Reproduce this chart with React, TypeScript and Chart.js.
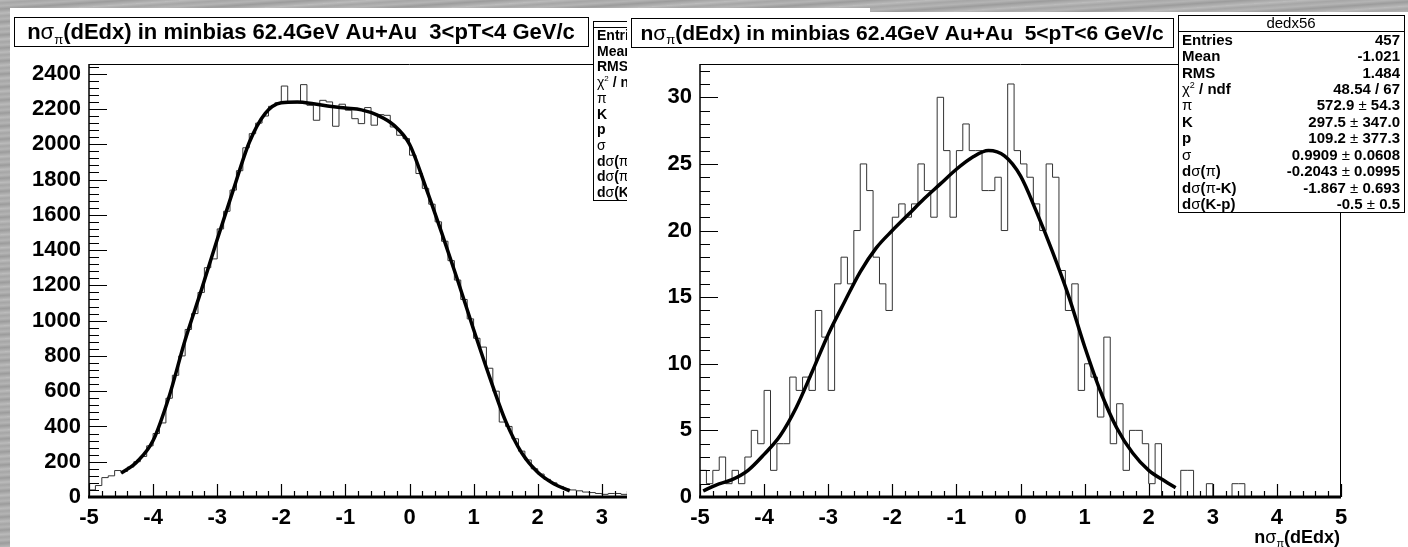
import React, { useEffect, useRef } from "react";
import { Chart, registerables } from "chart.js";

Chart.register(...registerables);

// ---------------- data ----------------
const binLow = -5;
const binWidth = 0.1;

// left pad: 3<pT<4 (visible bins from -5 to ~3.5)
const leftCounts = [
  40, 65, 110, 120, 150, 145, 170, 200, 230, 290,
  360, 420, 560, 690, 800, 950, 1040, 1160, 1300, 1350,
  1520, 1620, 1740, 1850, 1980, 2060, 2120, 2160, 2215, 2235,
  2330, 2235, 2235, 2338, 2221, 2136, 2249, 2240, 2102, 2227,
  2193, 2145, 2117, 2208, 2108, 2168, 2164, 2098, 2051, 2032,
  1938, 1834, 1750, 1660, 1560, 1450, 1340, 1230, 1120, 1010,
  900, 850, 730, 600, 425, 400, 330, 260, 210, 160,
  130, 100, 80, 60, 45, 40, 35, 28, 25, 20,
  15, 20, 20, 15, 12,
];
const leftFitX = [-4.5, -4.25, -4.0, -3.75, -3.5, -3.25, -3.0, -2.75, -2.5, -2.25, -2.0, -1.75, -1.5, -1.25, -1.0, -0.75, -0.5, -0.25, 0.0, 0.25, 0.5, 0.75, 1.0, 1.25, 1.5, 1.75, 2.0, 2.25, 2.5];
const leftFitY = [135, 200, 320, 570, 890, 1170, 1460, 1740, 2010, 2175, 2235, 2240, 2230, 2215, 2205, 2195, 2165, 2110, 2000, 1760, 1500, 1230, 950, 680, 430, 250, 140, 75, 35];

// right pad: 5<pT<6
const rightCounts = [
  2, 1, 2, 3, 1, 2, 1, 3, 5, 4,
  8, 2, 4, 4, 9, 8, 9, 8, 14, 12,
  8, 16, 18, 16, 20, 25, 23, 18, 16, 14,
  21, 22, 21, 22, 25, 23, 21, 30, 26, 21,
  26, 28, 26, 26, 23, 23, 24, 20, 31, 26,
  25, 24, 22, 20, 25, 24, 17, 14, 16, 8,
  10, 9, 6, 12, 4, 7, 2, 5, 5, 4,
  1, 4, 0, 0, 0, 2, 2, 0, 0, 1,
  0, 0, 0, 1, 1, 0, 0, 0, 0, 0,
  0, 0, 0, 0, 0, 0, 0, 0, 0, 0,
];
const rightFitX = [-4.95, -4.75, -4.5, -4.25, -4.0, -3.75, -3.5, -3.25, -3.0, -2.75, -2.5, -2.25, -2.0, -1.75, -1.5, -1.25, -1.0, -0.75, -0.5, -0.25, 0.0, 0.25, 0.5, 0.75, 1.0, 1.25, 1.5, 1.75, 2.0, 2.25, 2.42];
const rightFitY = [0.45, 0.9, 1.3, 2.0, 3.2, 4.6, 6.7, 9.4, 12.2, 14.6, 16.9, 18.7, 20.0, 21.2, 22.4, 23.5, 24.6, 25.5, 26.0, 25.6, 24.1, 21.4, 18.4, 15.1, 11.3, 7.9, 5.2, 3.3, 2.0, 1.2, 0.7];

const leftTitle = "nσ_π(dEdx) in minbias 62.4GeV Au+Au  3<pT<4 GeV/c";
const rightTitle = "nσ_π(dEdx) in minbias 62.4GeV Au+Au  5<pT<6 GeV/c";
const xAxisTitle = "nσ_π(dEdx)";

const statLabels = ["Entries", "Mean", "RMS", "χ^2 / ndf", "π", "K", "p", "σ", "dσ(π)", "dσ(π-K)", "dσ(K-p)"];
const rightStatsName = "dedx56";
const rightStatValues = ["457", "-1.021", "1.484", "48.54 / 67", "572.9 ± 54.3", "297.5 ± 347.0", "109.2 ± 377.3", "0.9909 ± 0.0608", "-0.2043 ± 0.0995", "-1.867 ± 0.693", "-0.5 ± 0.5"];

// ---------------- text helpers ----------------
const FAM = '"Liberation Sans", Arial, Helvetica, sans-serif';
type Seg = { t: string; k: "b" | "g" | "sub" | "sup" };

function parseRich(s: string): Seg[] {
  const segs: Seg[] = [];
  for (let i = 0; i < s.length; i++) {
    let c = s[i];
    let k: Seg["k"];
    if (c === "^") { k = "sup"; c = s[++i]; }
    else if (c === "_") { k = "sub"; c = s[++i]; }
    else if ("σπχ±".includes(c)) k = "g";
    else k = "b";
    const last = segs[segs.length - 1];
    if (last && last.k === k) last.t += c; else segs.push({ t: c, k });
  }
  return segs;
}
function fontFor(k: Seg["k"], size: number) {
  if (k === "b") return `bold ${size}px ${FAM}`;
  if (k === "g") return `${size}px ${FAM}`;
  return `${Math.round(size * 0.6)}px ${FAM}`;
}
function drawRich(ctx: CanvasRenderingContext2D, s: string, x: number, y: number, size: number, align: "left" | "right" | "center") {
  const segs = parseRich(s);
  let w = 0;
  const ws = segs.map((sg) => { ctx.font = fontFor(sg.k, size); const m = ctx.measureText(sg.t).width; w += m; return m; });
  let cx = align === "left" ? x : align === "right" ? x - w : x - w / 2;
  ctx.textAlign = "left";
  ctx.textBaseline = "alphabetic";
  segs.forEach((sg, i) => {
    ctx.font = fontFor(sg.k, size);
    const dy = sg.k === "sub" ? size * 0.2 : sg.k === "sup" ? -size * 0.4 : 0;
    ctx.fillText(sg.t, cx, y + dy);
    cx += ws[i];
  });
}

// ---------------- panel ----------------
interface StatsCfg { box: [number, number, number, number]; sepY: number; name: string; labels: string[]; values: string[]; font: number }
interface PanelCfg {
  left: number; top: number; width: number; height: number;
  area: { l: number; t: number; r: number; b: number };
  counts: number[]; fitX: number[]; fitY: number[];
  yMax: number; yMajor: number; yMinor: number;
  tickFont: number;
  title: string; titleBox: [number, number, number, number]; titleFont: number;
  stats: StatsCfg;
  axisTitle?: { text: string; x: number; y: number; size: number };
}

function makeDecor(cfg: PanelCfg) {
  return {
    id: "rootDecor",
    afterDraw(chart: any) {
      const ctx: CanvasRenderingContext2D = chart.ctx;
      const { left, right, top, bottom } = chart.chartArea;
      const xs = chart.scales.x;
      const ys = chart.scales.y;
      ctx.save();
      ctx.strokeStyle = "#000";
      // frame
      ctx.lineWidth = 1;
      ctx.beginPath();
      ctx.moveTo(left, top + 0.5); ctx.lineTo(right, top + 0.5);
      ctx.moveTo(right - 0.5, top); ctx.lineTo(right - 0.5, bottom);
      ctx.stroke();
      // y axis
      ctx.lineWidth = 1.5;
      ctx.beginPath(); ctx.moveTo(left, top); ctx.lineTo(left, bottom); ctx.stroke();
      // x ticks
      ctx.lineWidth = 1.2;
      ctx.beginPath();
      const nx = Math.round((xs.max - xs.min) / 0.2);
      for (let k = 0; k <= nx; k++) {
        const v = xs.min + k * 0.2;
        const px = Math.round(xs.getPixelForValue(v)) + 0.5;
        const len = k % 5 === 0 ? 13 : 6;
        ctx.moveTo(px, bottom); ctx.lineTo(px, bottom - len);
      }
      // y ticks
      const ny = Math.floor(cfg.yMax / cfg.yMinor + 1e-6);
      const ratio = Math.round(cfg.yMajor / cfg.yMinor);
      for (let k = 0; k <= ny; k++) {
        const v = k * cfg.yMinor;
        const py = Math.round(ys.getPixelForValue(v)) + 0.5;
        const len = k % ratio === 0 ? 18 : 10;
        ctx.moveTo(left, py); ctx.lineTo(left + len, py);
      }
      ctx.stroke();
      // x axis (thick)
      ctx.lineWidth = 3;
      ctx.beginPath(); ctx.moveTo(left - 1, bottom); ctx.lineTo(right, bottom); ctx.stroke();

      // stats box
      const st = cfg.stats;
      const [sx, sy, sw, sh] = st.box;
      ctx.fillStyle = "#fff";
      ctx.fillRect(sx, sy, sw, sh);
      ctx.lineWidth = 1;
      ctx.strokeRect(sx + 0.5, sy + 0.5, sw, sh);
      ctx.beginPath(); ctx.moveTo(sx, st.sepY + 0.5); ctx.lineTo(sx + sw, st.sepY + 0.5); ctx.stroke();
      ctx.fillStyle = "#000";
      if (st.name) {
        ctx.font = `${st.font}px ${FAM}`;
        ctx.textAlign = "center"; ctx.textBaseline = "middle";
        ctx.fillText(st.name, sx + sw / 2, (sy + st.sepY) / 2 + 1);
      }
      const rowH = (sy + sh - st.sepY) / st.labels.length;
      st.labels.forEach((lab, i) => {
        const cy = st.sepY + rowH * (i + 0.5);
        drawRich(ctx, lab, sx + 4, cy + st.font * 0.36, st.font, "left");
        if (st.values[i]) drawRich(ctx, st.values[i], sx + sw - 4, cy + st.font * 0.36, st.font, "right");
      });

      // title box
      const [tx, ty, tw, th] = cfg.titleBox;
      ctx.fillStyle = "#fff";
      ctx.fillRect(tx, ty, tw, th);
      ctx.strokeRect(tx + 0.5, ty + 0.5, tw, th);
      ctx.fillStyle = "#000";
      drawRich(ctx, cfg.title, tx + tw / 2, ty + th / 2 + cfg.titleFont * 0.36, cfg.titleFont, "center");

      if (cfg.axisTitle) {
        const a = cfg.axisTitle;
        drawRich(ctx, a.text, a.x, a.y, a.size, "right");
      }
      ctx.restore();
    },
  };
}

function Panel({ cfg }: { cfg: PanelCfg }) {
  const ref = useRef<HTMLCanvasElement | null>(null);
  useEffect(() => {
    const canvas = ref.current!;
    const hist = cfg.counts.map((c, i) => ({ x: binLow + i * binWidth, y: c }));
    hist.push({ x: binLow + cfg.counts.length * binWidth, y: cfg.counts[cfg.counts.length - 1] });
    const fit = cfg.fitX.map((x, i) => ({ x, y: cfg.fitY[i] }));
    const { l, t, r, b } = cfg.area;
    const tickFont = { family: FAM, weight: "bold" as const, size: cfg.tickFont };
    const chart = new Chart(canvas, {
      type: "line",
      data: {
        datasets: [
          { data: fit, borderColor: "#000", borderWidth: 3.5, pointRadius: 0, tension: 0.4, cubicInterpolationMode: "monotone", order: 0 } as any,
          { data: hist, borderColor: "#333", borderWidth: 1, pointRadius: 0, stepped: "before", order: 1 } as any,
        ],
      },
      options: {
        animation: false,
        responsive: false,
        maintainAspectRatio: false,
        events: [],
        layout: { padding: { top: t, left: 0, right: cfg.width - r, bottom: 0 } },
        plugins: { legend: { display: false }, tooltip: { enabled: false }, title: { display: false } },
        scales: {
          x: {
            type: "linear", min: -5, max: 5,
            grid: { display: false, drawTicks: false }, border: { display: false },
            ticks: { stepSize: 1, font: tickFont, color: "#000", padding: 8, maxRotation: 0, autoSkip: false, includeBounds: false, callback: (v: any) => String(Math.round(Number(v))) },
            afterFit: (s: any) => { s.height = cfg.height - b; },
          },
          y: {
            type: "linear", min: 0, max: cfg.yMax,
            grid: { display: false, drawTicks: false }, border: { display: false },
            ticks: { stepSize: cfg.yMajor, font: tickFont, color: "#000", padding: 8, autoSkip: false, includeBounds: false, callback: (v: any) => String(Math.round(Number(v))) },
            afterBuildTicks: (s: any) => { s.ticks = s.ticks.filter((tk: any) => Math.abs(tk.value / cfg.yMajor - Math.round(tk.value / cfg.yMajor)) < 1e-6); },
            afterFit: (s: any) => { s.width = l; },
          },
        },
      } as any,
      plugins: [makeDecor(cfg) as any],
    });
    return () => chart.destroy();
  }, [cfg]);
  return (
    <div style={{ position: "absolute", left: cfg.left, top: cfg.top, width: cfg.width, height: cfg.height, background: "#fff", overflow: "hidden" }}>
      <canvas ref={ref} width={cfg.width} height={cfg.height} style={{ display: "block" }} />
    </div>
  );
}

const leftCfg: PanelCfg = {
  left: 10, top: 8, width: 860, height: 539,
  area: { l: 79, t: 56, r: 720, b: 489 },
  counts: leftCounts, fitX: leftFitX, fitY: leftFitY,
  yMax: 2455, yMajor: 200, yMinor: 40, tickFont: 22,
  title: leftTitle, titleBox: [4, 9, 574, 29], titleFont: 22,
  stats: { box: [583, 13, 227, 179], sepY: 19, name: "", labels: statLabels, values: [], font: 14 },
};

const rightCfg: PanelCfg = {
  left: 627, top: 12, width: 781, height: 535,
  area: { l: 73, t: 52, r: 714, b: 485 },
  counts: rightCounts, fitX: rightFitX, fitY: rightFitY,
  yMax: 32.5, yMajor: 5, yMinor: 1, tickFont: 22,
  title: rightTitle, titleBox: [4, 6, 542, 29], titleFont: 21,
  stats: { box: [551, 3, 226, 197], sepY: 19, name: rightStatsName, labels: statLabels, values: rightStatValues, font: 15 },
  axisTitle: { text: xAxisTitle, x: 713, y: 531, size: 18 },
};

export default function App() {
  return (
    <div style={{
      position: "fixed", left: 0, top: 0, width: 1408, height: 547, overflow: "hidden",
      backgroundColor: "#ababab",
      backgroundImage: "repeating-linear-gradient(176deg, #bcbcbc 0px, #a6a6a6 3px, #b4b4b4 6px, #9c9c9c 9px, #b8b8b8 13px)",
    }}>
      <Panel cfg={leftCfg} />
      <Panel cfg={rightCfg} />
    </div>
  );
}
